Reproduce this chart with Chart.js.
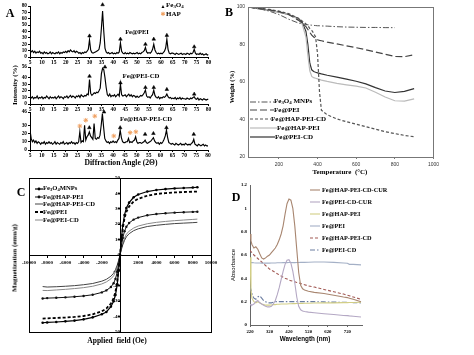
<!DOCTYPE html>
<html><head><meta charset="utf-8">
<script src="https://cdn.jsdelivr.net/npm/chart.js@4.4.0/dist/chart.umd.min.js"></script>
<style>
body{margin:0;background:#fff;width:474px;height:355px;overflow:hidden;position:relative;font-family:'Liberation Serif',serif;}
canvas{position:absolute;}
.t{position:absolute;font-weight:bold;white-space:nowrap;color:#000;line-height:1;}
.c{transform:translate(-50%,-50%);}
.l{transform:translateY(-50%);}
.r{transform:translate(-50%,-50%) rotate(-90deg);}
.s{font-size:70%;vertical-align:-0.25em;}
</style></head><body>
<canvas id="a1" style="left:8px;top:0px;width:205px;height:65px" width="205" height="65"></canvas>
<canvas id="a2" style="left:8px;top:62px;width:205px;height:50px" width="205" height="50"></canvas>
<canvas id="a3" style="left:8px;top:107px;width:205px;height:51px" width="205" height="51"></canvas>
<canvas id="b" style="left:222px;top:0px;width:220px;height:180px" width="220" height="180"></canvas>
<canvas id="c" style="left:14px;top:172px;width:212px;height:166px" width="212" height="166"></canvas>
<canvas id="d" style="left:236px;top:178px;width:130px;height:160px" width="130" height="160"></canvas>

<div class="t c" style="left:10px;top:13px;font-size:12px">A</div>
<div class="t c" style="left:163px;top:6px;font-size:5px">▲</div>
<div class="t l" style="left:166px;top:6px;font-size:7px">Fe<span class="s">3</span>O<span class="s">4</span></div>
<div class="t c" style="left:163px;top:14px;font-size:6px;color:#f0a060;font-family:'DejaVu Sans'">✱</div>
<div class="t l" style="left:166px;top:14px;font-size:7px">HAP</div>
<div class="t c" style="left:137px;top:32px;font-size:6.5px">Fe@PEI</div>
<div class="t c" style="left:141px;top:76px;font-size:6.8px">Fe@PEI-CD</div>
<div class="t c" style="left:146px;top:119px;font-size:6.6px">Fe@HAP-PEI-CD</div>
<div class="t r" style="left:15px;top:85px;font-size:7px">Intensity (%)</div>
<div class="t c" style="left:121px;top:163px;font-size:7.6px">Diffraction Angle (2Θ)</div>

<div class="t c" style="left:229px;top:12px;font-size:12px">B</div>
<div class="t r" style="left:232px;top:87px;font-size:6.5px">Weight (%)</div>
<div class="t c" style="left:340px;top:172px;font-size:7px">Temperature&nbsp; (°C)</div>
<div class="t l" style="left:274px;top:102px;font-size:7px">Fe<span class="s">3</span>O<span class="s">4</span> MNPs</div>
<div class="t l" style="left:274px;top:110px;font-size:7px">Fe@PEI</div>
<div class="t l" style="left:271px;top:119px;font-size:7px">Fe@HAP-PEI-CD</div>
<div class="t l" style="left:277px;top:128px;font-size:7px">Fe@HAP-PEI</div>
<div class="t l" style="left:275px;top:137px;font-size:7px">Fe@PEI-CD</div>

<div class="t c" style="left:21px;top:192px;font-size:12px">C</div>
<div class="t l" style="left:43px;top:189px;font-size:6.6px">Fe<span class="s">3</span>O<span class="s">4</span>MNPs</div>
<div class="t l" style="left:43px;top:197px;font-size:6.6px">Fe@HAP-PEI</div>
<div class="t l" style="left:43px;top:204px;font-size:6.6px">Fe@HAP-PEI-CD</div>
<div class="t l" style="left:43px;top:212px;font-size:6.6px">Fe@PEI</div>
<div class="t l" style="left:43px;top:220px;font-size:6.6px">Fe@PEI-CD</div>
<div class="t r" style="left:15px;top:258px;font-size:7px">Magnetization (emu/g)</div>
<div class="t c" style="left:117px;top:341px;font-size:7.5px">Applied&nbsp; field (Oe)</div>

<div class="t c" style="left:236px;top:197px;font-size:12px">D</div>
<div class="t r" style="left:233px;top:265px;font-size:6px;font-family:'Liberation Sans';font-weight:normal">Absorbance</div>
<div class="t c" style="left:305px;top:339px;font-size:6.3px;font-family:'Liberation Sans'">Wavelength (nm)</div>
<div class="t l" style="left:322px;top:190px;font-size:6.3px">Fe@HAP-PEI-CD-CUR</div>
<div class="t l" style="left:322px;top:202px;font-size:6.3px">Fe@PEI-CD-CUR</div>
<div class="t l" style="left:322px;top:214px;font-size:6.3px">Fe@HAP-PEI</div>
<div class="t l" style="left:322px;top:226px;font-size:6.3px">Fe@PEI</div>
<div class="t l" style="left:322px;top:238px;font-size:6.3px">Fe@HAP-PEI-CD</div>
<div class="t l" style="left:322px;top:250px;font-size:6.3px">Fe@PEI-CD</div>

<script>
// ---------- Panel A: XRD ----------
const xrdAngles = [5,5.5,6,6.5,7,7.5,8,8.5,9,9.5,
10,10.5,11,11.5,12,12.5,13,13.5,14,14.5,
15,15.5,16,16.5,17,17.5,18,18.5,19,19.5,
20,20.5,21,21.5,22,22.5,23,23.5,24,24.5,
25,25.5,26,26.5,27,27.5,28,28.5,29,29.5,
30,30.5,31,31.5,32,32.5,33,33.5,34,34.5,
35,35.5,36,36.5,37,37.5,38,38.5,39,39.5,
40,40.5,41,41.5,42,42.5,43,43.5,44,44.5,
45,45.5,46,46.5,47,47.5,48,48.5,49,49.5,
50,50.5,51,51.5,52,52.5,53,53.5,54,54.5,
55,55.5,56,56.5,57,57.5,58,58.5,59,59.5,
60,60.5,61,61.5,62,62.5,63,63.5,64,64.5,
65,65.5,66,66.5,67,67.5,68,68.5,69,69.5,
70,70.5,71,71.5,72,72.5,73,73.5,74,74.5,
75,75.5,76,76.5,77,77.5,78,78.5,79,79.5,80];
const xrdFePEI = [11,8,10,7,9,6,8,7,9,6,
7,5,8,6,7,5,6,8,5,7,
6,5,7,6,8,5,7,6,8,7,
9,7,10,8,11,9,8,10,7,9,
8,6,7,5,7,6,8,7,9,12,
27,11,7,6,7,8,9,10,12,22,
45,72,40,14,8,6,7,5,6,7,
5,6,5,7,6,8,22,9,6,5,
7,5,6,5,7,6,5,6,5,6,
7,5,6,5,7,8,10,15,8,6,
7,6,8,12,20,11,7,5,6,5,
6,5,7,9,14,28,12,6,5,6,
6,5,4,6,5,4,5,6,4,5,
5,4,6,5,4,6,5,7,12,6,
4,5,4,6,4,5,3,4,5,3,4];
const xrdFePEICD = [12,9,11,8,10,9,12,8,10,9,
11,8,10,9,12,10,8,11,9,10,
9,11,8,10,12,9,11,10,8,11,
10,12,9,11,13,10,12,11,9,12,
11,13,10,14,12,11,13,12,15,14,
37,16,13,15,17,16,18,17,20,24,
46,54,52,40,25,14,12,15,11,13,
12,14,11,13,15,12,30,14,12,13,
14,11,13,15,12,14,11,13,12,10,
12,10,11,13,12,14,17,21,12,10,
11,9,12,14,21,13,10,9,11,8,
10,9,11,10,12,15,11,9,10,8,
9,8,10,7,9,8,10,7,9,8,
8,7,9,8,7,9,8,10,11,8,
7,9,6,8,7,6,8,7,6,7,7];
const xrdFeHAPPEICD = [24,14,10,12,9,11,8,10,9,7,
9,8,10,7,9,8,10,8,9,7,
8,10,7,9,8,7,9,8,10,7,
8,9,7,9,8,10,8,9,7,9,
8,10,22,9,11,10,30,12,16,18,
22,17,15,13,32,14,13,15,14,18,
30,44,28,14,11,9,10,8,10,9,
11,9,10,9,12,14,24,15,10,9,
9,10,10,14,9,10,9,11,12,16,
10,8,9,9,8,9,10,12,9,8,
9,10,11,13,15,11,9,8,9,7,
9,8,10,13,17,24,15,9,8,7,
8,7,6,8,7,6,7,8,6,7,
6,8,7,6,7,6,8,9,13,7,
6,5,7,6,5,6,7,5,6,5,5];
const a1TriX = [30,35.5,43,53.5,57,62.5,74];
const a1TriY = [33,82,28,20,28,34,16];
const a2TriX = [30,36.5,43,53.5,57,62.5,74];
const a2TriY = [42,56,32,25,25,22,15];
const a3TriX = [30,36.2,43,53.5,57,62.5,74];
const a3TriY = [27,46,27,19,20,27,19];
const a3StarX = [26,28.5,32.3,40.3,47.2,49.6];
const a3StarY = [29,36,41,17,21,22];

// ---------- Panel B: TGA ----------
const tgaTemp = [40,100,150,200,250,300,320,340,350,360,370,380,390,400,410,420,450,500,550,600,650,700,750,800,850,900];
const tgaFe3O4 = [100,99,97.8,96,93.5,91.5,91,90.7,90.5,90.4,90.3,90.2,90.1,90,90,89.9,89.8,89.5,89.3,89.2,89.1,89.1,89,89,null,null];
const tgaFePEI = [100,99.2,98.5,97.5,96,93,91.5,89.5,88,86.5,85,84,83.2,82.5,82.2,82,81.3,80.3,79.3,78.3,77.2,76,74.8,73.6,73.5,74.5];
const tgaFeHAPPEICD = [100,99.3,98.7,97.8,96.5,94,92.5,91,90,88.5,87.5,86,84,75,55,45,42.5,40.3,38.8,37.5,36.2,34.8,33.5,32.5,31.5,30.8];
const tgaFeHAPPEI = [100,99,98.3,97.3,96,93.5,91,84,74,66,63,62.3,62,61.7,61.4,61,60.3,59.3,58.5,57.8,56.8,54.5,52,50,49.8,51];
const tgaFePEICD = [100,99,98.3,97.3,96,94,92,87,80,70,66.5,65.6,65.2,64.9,64.6,64.3,63.6,62.6,61.5,60.4,59,57,55.2,54.4,55,56.5];
const tgaTicksX = [200,400,600,800,1000];
const tgaTicksY = [20,40,60,80,100];

// ---------- Panel C: VSM ----------
const magField = [-8500,-8000,-7000,-6000,-5000,-4000,-3000,-2000,-1500,-1000,-700,-500,-300,-150,0,150,300,500,700,1000,1500,2000,3000,4000,5000,6000,7000,8000,8500];
const magFe3O4 = [-44,-43.8,-43.5,-43.1,-42.6,-41.8,-40.5,-38.5,-37,-33.5,-30,-26,-19,-10,0,10,19,26,30.5,34,37.5,39.3,41.2,42.2,42.8,43.2,43.5,43.8,44];
const magFeHAPPEI = [-28.2,-28,-27.8,-27.5,-27.1,-26.6,-25.8,-24.3,-23,-20.8,-18.3,-15.5,-11,-6,0,6,11,15.5,18.3,20.8,23,24.3,25.8,26.6,27.1,27.5,27.8,28,28.1];
const magFeHAPPEICD = [-20.5,-20.8,-20.6,-20.3,-19.9,-19.3,-18.5,-17,-15.8,-13.8,-11.8,-9.5,-6.5,-3.5,0,3.5,6.5,9.5,11.8,13.8,15.8,17,18.5,19.3,19.9,20.4,20.7,21,21.2];
const magFePEI = [-41.3,-41.1,-40.9,-40.6,-40.2,-39.6,-38.5,-36.5,-34.8,-31.5,-28,-24,-17,-9,0,9,17,24,28,31.5,34.8,36.5,38.5,39.6,40.2,40.6,40.9,41.1,41.2];
const magFePEICD = [-23,-23.1,-22.7,-22.3,-21.8,-21.2,-20.3,-18.8,-17.5,-15.5,-13.5,-11,-7.5,-4,0,4,7.5,11,13.5,15.5,17.5,18.8,20.3,21.2,21.8,22.3,22.7,23.1,23.3];

// ---------- Panel D: UV-Vis ----------
const uvWave = [220,225,230,240,250,260,270,280,290,300,310,320,330,340,350,360,370,380,390,400,410,420,430,440,450,460,470,480,490,500,520,550,600,650,700,720,730,750,790];
const uvHAPPEICDCUR = [0.78,0.72,0.69,0.66,0.67,0.65,0.61,0.575,0.565,0.575,0.59,0.6,0.62,0.64,0.66,0.69,0.73,0.78,0.85,0.95,1.04,1.08,1.07,1.0,0.85,0.65,0.45,0.34,0.31,0.3,0.29,0.28,0.27,0.255,0.24,0.235,0.23,0.22,0.2];
const uvPEICDCUR = [0.18,0.17,0.17,0.18,0.2,0.21,0.19,0.18,0.17,0.16,0.155,0.155,0.16,0.18,0.21,0.26,0.32,0.39,0.46,0.52,0.555,0.56,0.53,0.46,0.36,0.24,0.16,0.13,0.12,0.115,0.11,0.105,0.097,0.09,0.082,0.08,0.078,0.075,0.068];
const uvHAPPEI = [0.58,0.3,0.23,0.2,0.19,0.2,0.19,0.18,0.175,0.17,0.17,0.17,0.172,0.175,0.175,0.178,0.178,0.18,0.18,0.18,0.18,0.182,0.182,0.183,0.183,0.184,0.184,0.185,0.185,0.186,0.187,0.188,0.19,0.19,0.192,0.192,0.193,0.193,0.195];
const uvPEI = [0.535,0.535,0.535,0.533,0.532,0.532,0.531,0.53,0.53,0.53,0.531,0.53,0.531,0.532,0.532,0.533,0.533,0.534,0.535,0.535,0.535,0.536,0.536,0.535,0.535,0.536,0.536,0.537,0.537,0.537,0.538,0.54,0.54,0.537,0.532,0.53,0.52,0.52,0.515];
const uvHAPPEICD = [0.64,0.63,0.62,0.6,0.585,0.57,0.555,0.54,0.525,0.51,0.495,0.48,0.47,0.46,0.45,0.44,0.43,0.42,0.41,0.4,0.395,0.385,0.38,0.375,0.37,0.365,0.36,0.355,0.35,0.345,0.335,0.325,0.305,0.285,0.265,0.255,0.25,0.24,0.22];
const uvPEICD = [0.33,0.3,0.27,0.23,0.22,0.24,0.25,0.23,0.21,0.2,0.19,0.19,0.19,0.195,0.2,0.2,0.2,0.2,0.2,0.2,0.2,0.2,0.2,0.2,0.2,0.2,0.2,0.2,0.2,0.2,0.2,0.2,0.198,0.196,0.195,0.194,0.193,0.192,0.19];
const uvTicksX = [220,320,420,520,620,720];
const uvTicksY = [0,0.2,0.4,0.6,0.8,1,1.2];

// ---------- helpers ----------
const serifB = s => ({family:"'Liberation Serif', serif", size:s, weight:'bold'});
const pts = (xs, ys) => xs.map((x,i)=>({x:x, y:ys[i]}));

const framePlugin = {
  id:'frame',
  afterDatasetsDraw(chart, args, opts){
    if(!opts || !opts.on) return;
    const a = chart.chartArea, ctx = chart.ctx;
    ctx.save(); ctx.strokeStyle = opts.color || '#000'; ctx.lineWidth = opts.width || 1;
    ctx.strokeRect(Math.round(a.left)+0.5, Math.round(a.top)+0.5, Math.round(a.right-a.left), Math.round(a.bottom-a.top));
    ctx.restore();
  }
};
const samplePlugin = {
  id:'samples',
  afterDraw(chart, args, opts){
    if(!opts || !opts.items) return;
    const ctx = chart.ctx;
    opts.items.forEach(it=>{
      const ds = chart.data.datasets[it.ds];
      ctx.save();
      ctx.strokeStyle = ds.borderColor; ctx.lineWidth = ds.borderWidth; ctx.setLineDash(ds.borderDash || []);
      ctx.beginPath(); ctx.moveTo(it.x1, it.y); ctx.lineTo(it.x2, it.y); ctx.stroke();
      if(it.dot){ ctx.setLineDash([]); ctx.fillStyle = ds.borderColor; ctx.beginPath(); ctx.arc((it.x1+it.x2)/2, it.y, 1.4, 0, Math.PI*2); ctx.fill(); }
      ctx.restore();
    });
  }
};
Chart.register(framePlugin, samplePlugin);
Chart.defaults.font.family = "'Liberation Serif', serif";

const baseOpts = {responsive:false, animation:false, events:[], plugins:{legend:{display:false}, tooltip:{enabled:false}}};

function xrdChart(id, vals, ymax, triX, triY, starX, starY, padTop){
  const ds = [
    {type:'line', data:pts(xrdAngles, vals), borderColor:'#000', borderWidth:1.15, pointRadius:0, tension:0},
    {type:'scatter', data:pts(triX, triY), pointStyle:'triangle', pointRadius:2.1, backgroundColor:'#000', borderColor:'#000', borderWidth:0.5, clip:false}
  ];
  if(starX) ds.push({type:'scatter', data:pts(starX, starY), pointStyle:'star', pointRadius:2.3, borderColor:'#f0a060', backgroundColor:'#f0a060', borderWidth:1, clip:false});
  return new Chart(document.getElementById(id), {
    type:'line', data:{datasets:ds},
    options:Object.assign({}, baseOpts, {
      layout:{padding:{top:padTop, right:4, left:0, bottom:0}},
      scales:{
        x:{type:'linear', min:5, max:80,
           ticks:{stepSize:5, font:serifB(5.5), color:'#000', padding:0, maxRotation:0, autoSkip:false, callback:v=>String(v)},
           grid:{drawOnChartArea:false, tickLength:2, color:'#000'}, border:{color:'#000', width:1},
           afterFit:s=>{s.height=8;}},
        y:{min:0, max:ymax,
           ticks:{stepSize:10, font:serifB(5.3), color:'#000', padding:1, autoSkip:false, callback:v=>String(v)},
           grid:{drawOnChartArea:false, tickLength:2, color:'#000'}, border:{color:'#000', width:1},
           afterFit:s=>{s.width=22;}}
      }
    })
  });
}
xrdChart('a1', xrdFePEI, 80, a1TriX, a1TriY, null, null, 6);
xrdChart('a2', xrdFePEICD, 56, a2TriX, a2TriY, null, null, 5);
xrdChart('a3', xrdFeHAPPEICD, 46, a3TriX, a3TriY, a3StarX, a3StarY, 5);

// ---------- B ----------
new Chart(document.getElementById('b'), {
  type:'line',
  data:{datasets:[
    {data:pts(tgaTemp, tgaFe3O4), borderColor:'#555', borderWidth:1, borderDash:[6,2,1.5,2], pointRadius:0},
    {data:pts(tgaTemp, tgaFePEI), borderColor:'#444', borderWidth:1.2, borderDash:[7,3], pointRadius:0},
    {data:pts(tgaTemp, tgaFeHAPPEICD), borderColor:'#555', borderWidth:1.2, borderDash:[3,2], pointRadius:0},
    {data:pts(tgaTemp, tgaFeHAPPEI), borderColor:'#bbb', borderWidth:1.2, pointRadius:0},
    {data:pts(tgaTemp, tgaFePEICD), borderColor:'#333', borderWidth:1.2, pointRadius:0}
  ]},
  options:Object.assign({}, baseOpts, {
    layout:{padding:{top:7, right:5, left:0, bottom:0}},
    plugins:{legend:{display:false}, tooltip:{enabled:false}, frame:{on:true, color:'#777'},
      samples:{items:[{ds:0,x1:28,x2:52,y:102},{ds:1,x1:28,x2:52,y:110},{ds:2,x1:28,x2:49,y:119},{ds:3,x1:28,x2:55,y:128},{ds:4,x1:28,x2:53,y:137}]}},
    scales:{
      x:{type:'linear', min:40, max:1000, afterBuildTicks:s=>{s.ticks=tgaTicksX.map(v=>({value:v}));},
         ticks:{font:{family:"'Liberation Sans', sans-serif", size:5}, color:'#333', padding:3, maxRotation:0, autoSkip:false, callback:v=>String(v)},
         grid:{drawOnChartArea:false, tickLength:2, color:'#777'}, border:{color:'#777'}, afterFit:s=>{s.height=23;}},
      y:{min:20, max:100, afterBuildTicks:s=>{s.ticks=tgaTicksY.map(v=>({value:v}));},
         ticks:{font:{family:"'Liberation Sans', sans-serif", size:5}, color:'#333', padding:3, callback:v=>String(v)},
         grid:{drawOnChartArea:false, drawTicks:false, color:'#777'}, border:{color:'#777'}, afterFit:s=>{s.width=26;}}
    }
  })
});

// ---------- C ----------
new Chart(document.getElementById('c'), {
  type:'line',
  data:{datasets:[
    {data:pts(magField, magFe3O4), borderColor:'#000', borderWidth:1.2, pointRadius:1.3, pointBackgroundColor:'#000', pointBorderWidth:0},
    {data:pts(magField, magFeHAPPEI), borderColor:'#111', borderWidth:1, pointRadius:1.2, pointBackgroundColor:'#111', pointBorderWidth:0},
    {data:pts(magField, magFeHAPPEICD), borderColor:'#444', borderWidth:1, pointRadius:0},
    {data:pts(magField, magFePEI), borderColor:'#000', borderWidth:1.8, borderDash:[3,2], pointRadius:0},
    {data:pts(magField, magFePEICD), borderColor:'#888', borderWidth:1, pointRadius:0}
  ]},
  options:Object.assign({}, baseOpts, {
    layout:{padding:{top:6, right:15, left:15, bottom:6}},
    plugins:{legend:{display:false}, tooltip:{enabled:false}, frame:{on:true, color:'#000'},
      samples:{items:[{ds:0,x1:21,x2:29,y:17,dot:true},{ds:1,x1:21,x2:29,y:25,dot:true},{ds:2,x1:21,x2:29,y:32},{ds:3,x1:21,x2:29,y:40},{ds:4,x1:21,x2:29,y:48}]}},
    scales:{
      x:{type:'linear', min:-10000, max:10000, position:{y:0},
         ticks:{stepSize:2000, font:serifB(5), color:'#000', padding:3, maxRotation:0, autoSkip:false, callback:v=> v===0 ? '' : String(v)},
         grid:{drawOnChartArea:false, tickLength:2, color:'#000'}, border:{color:'#000', width:1}},
      y:{min:-50, max:50, position:{x:0},
         ticks:{stepSize:10, font:serifB(5), color:'#000', padding:1, autoSkip:false, callback:v=>String(v)},
         grid:{drawOnChartArea:false, tickLength:2, color:'#000'}, border:{color:'#000', width:1}}
    }
  })
});

// ---------- D ----------
new Chart(document.getElementById('d'), {
  type:'line',
  data:{datasets:[
    {data:pts(uvWave, uvHAPPEICDCUR), borderColor:'#a88670', borderWidth:1.1, pointRadius:0},
    {data:pts(uvWave, uvPEICDCUR), borderColor:'#b4a8c4', borderWidth:1.1, pointRadius:0},
    {data:pts(uvWave, uvHAPPEI), borderColor:'#d2ce86', borderWidth:1.1, pointRadius:0},
    {data:pts(uvWave, uvPEI), borderColor:'#a4b0c6', borderWidth:1.1, pointRadius:0},
    {data:pts(uvWave, uvHAPPEICD), borderColor:'#a25a55', borderWidth:1.1, borderDash:[3,2], pointRadius:0},
    {data:pts(uvWave, uvPEICD), borderColor:'#6a7ca0', borderWidth:1.1, borderDash:[5,2,1.5,2], pointRadius:0}
  ]},
  options:Object.assign({}, baseOpts, {
    layout:{padding:{top:7, right:4, left:0, bottom:0}},
    plugins:{legend:{display:false}, tooltip:{enabled:false},
      samples:{items:[{ds:0,x1:74,x2:84,y:12},{ds:1,x1:74,x2:84,y:24},{ds:2,x1:74,x2:84,y:36},{ds:3,x1:74,x2:84,y:48},{ds:4,x1:74,x2:84,y:60},{ds:5,x1:74,x2:84,y:72}]}},
    scales:{
      x:{type:'linear', min:220, max:795, afterBuildTicks:s=>{s.ticks=uvTicksX.map(v=>({value:v}));},
         ticks:{font:serifB(4.8), color:'#000', padding:2, maxRotation:0, autoSkip:false, callback:v=>String(v)},
         grid:{drawOnChartArea:false, tickLength:2, color:'#666'}, border:{color:'#666'}, afterFit:s=>{s.height=13;}},
      y:{min:0, max:1.2, afterBuildTicks:s=>{s.ticks=uvTicksY.map(v=>({value:v}));},
         ticks:{font:serifB(4.8), color:'#000', padding:3, callback:v=>String(v)},
         grid:{drawOnChartArea:false, drawTicks:false, color:'#666'}, border:{color:'#666'}, afterFit:s=>{s.width=14;}}
    }
  })
});
</script>
</body></html>
